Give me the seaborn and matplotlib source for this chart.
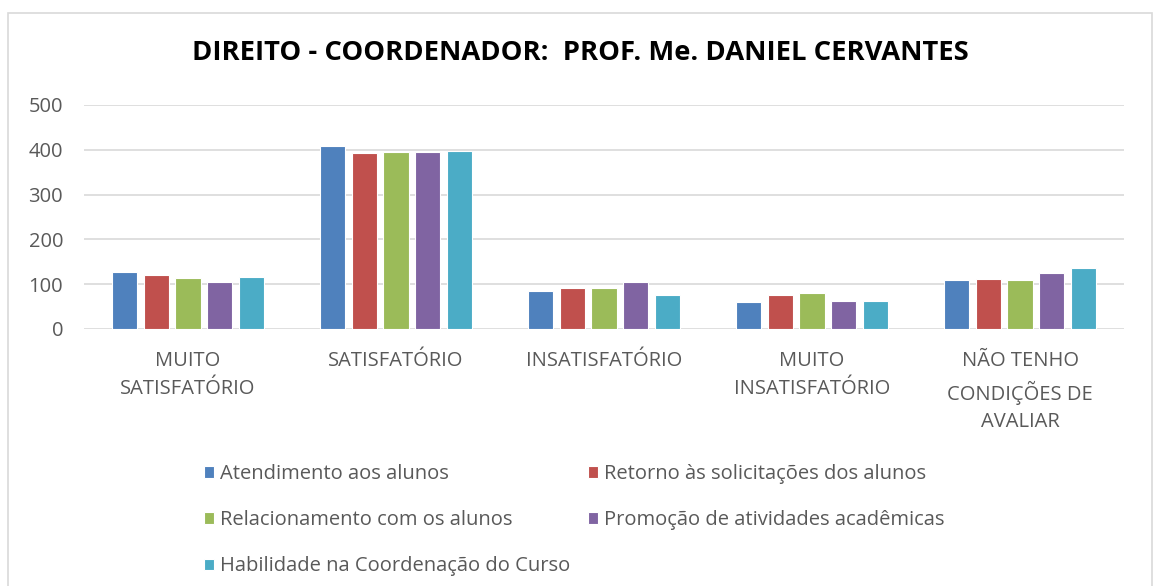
import pandas as pd
import matplotlib.pyplot as plt
import seaborn as sns
from matplotlib.patches import Rectangle

# Dados
categorias = ['MUITO\nSATISFATÓRIO', 'SATISFATÓRIO', 'INSATISFATÓRIO',
              'MUITO\nINSATISFATÓRIO', 'NÃO TENHO\nCONDIÇÕES DE\nAVALIAR']
atendimento = [128, 408, 84, 61, 110]
retorno = [120, 392, 91, 77, 112]
relacionamento = [114, 395, 91, 80, 110]
promocao = [105, 395, 104, 63, 124]
habilidade = [116, 397, 77, 63, 137]

series = ['Atendimento aos alunos', 'Retorno às solicitações dos alunos',
          'Relacionamento com os alunos', 'Promoção de atividades acadêmicas',
          'Habilidade na Coordenação do Curso']
cores = ['#4F81BD', '#C0504D', '#9BBB59', '#8064A2', '#4BACC6']

df = pd.DataFrame({
    'categoria': categorias * 5,
    'serie': [s for s in series for _ in categorias],
    'valor': atendimento + retorno + relacionamento + promocao + habilidade,
})

sns.set_style('white')
plt.rcParams['font.family'] = ['Open Sans', 'DejaVu Sans']

fig = plt.figure(figsize=(11.54, 5.86), dpi=100)
ax = fig.add_axes([84 / 1154, 1 - 329 / 586, 1040 / 1154, 224 / 586])

sns.barplot(data=df, x='categoria', y='valor', hue='serie', palette=cores,
            width=0.76, gap=0.2, edgecolor='white', linewidth=0.8,
            saturation=1, ax=ax, zorder=3)

ax.set_ylim(0, 500)
ax.set_yticks(range(0, 501, 100))
ax.yaxis.grid(True, color='#D9D9D9', linewidth=1.2, zorder=0)
for s in ax.spines.values():
    s.set_visible(False)
ax.set_xlabel('')
ax.set_ylabel('')
ax.tick_params(axis='y', colors='#595959', labelsize=14.5, length=0, pad=15)
ax.tick_params(axis='x', colors='#595959', length=0, pad=16)
ax.set_xticks(range(len(categorias)))
ax.set_xticklabels(categorias, fontsize=14.5, linespacing=1.5)

# legenda em linhas (2 colunas)
h, l = ax.get_legend_handles_labels()
ordem = [0, 2, 4, 1, 3]
ax.legend([h[i] for i in ordem], [l[i] for i in ordem], ncol=2, frameon=False,
          loc='upper left', bbox_to_anchor=(186 / 1154, 1 - 446 / 586),
          bbox_transform=fig.transFigure, fontsize=14.5, labelcolor='#595959',
          handlelength=0.5, handleheight=0.5, handletextpad=0.3,
          columnspacing=0.85, labelspacing=1.3)

fig.text(580 / 1154, 1 - 53 / 586, 'DIREITO - COORDENADOR:  PROF. Me. DANIEL CERVANTES',
         ha='center', va='center', fontsize=19.7, fontweight='bold', color='black')

fig.patches.append(Rectangle((8 / 1154, -0.01), 1144 / 1154, 1 - 13 / 586 + 0.01,
                             transform=fig.transFigure, fill=False,
                             edgecolor='#D9D9D9', linewidth=1.2))

plt.savefig('out.png', dpi=100)
plt.close()
